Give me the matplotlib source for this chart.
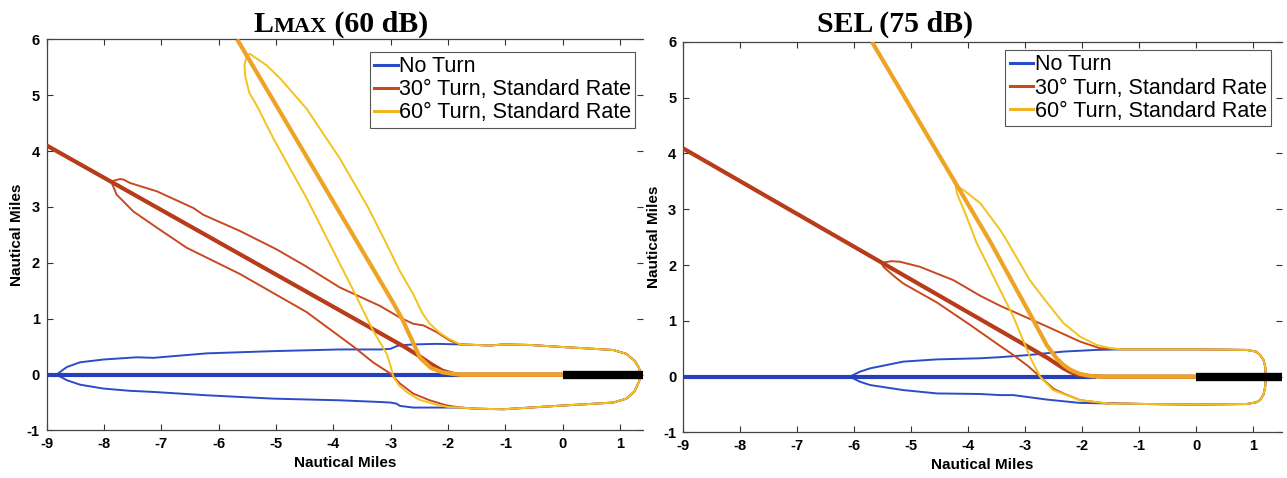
import matplotlib
matplotlib.use("Agg")
import matplotlib.pyplot as plt
from matplotlib.lines import Line2D
from matplotlib.offsetbox import TextArea, HPacker, AnchoredOffsetbox

# ── SERIES STYLE ──────────────────────────────────────────────
labels = ["No Turn", "30\u00b0 Turn, Standard Rate", "60\u00b0 Turn, Standard Rate"]
contour_colors = ["#2D4BC6", "#C9491F", "#F4C21C"]
track_colors = ["#2540B8", "#B93C1A", "#EEA324"]
legend_colors = ["#2D4BC6", "#C9491F", "#F2B424"]

# ── LMAX (60 dB) ──────────────────────────────────────────────
# shared nose of the contour around the runway (upper end -> lower end)
lmax_nose_x = [-1.79, -1.5, -1.27, -1.04, -0.57, -0.11, 0.4, 0.88, 1.11, 1.25, 1.33, 1.35,
               1.33, 1.25, 1.11, 0.88, 0.4, -0.11, -0.57, -1.04, -1.5, -1.79]
lmax_nose_y = [0.54, 0.53, 0.52, 0.54, 0.53, 0.50, 0.47, 0.44, 0.37, 0.25, 0.12, 0.0,
               -0.12, -0.30, -0.43, -0.50, -0.53, -0.56, -0.59, -0.62, -0.61, -0.59]

# no turn
lmax_none_track_x = [-9.0, -1.79]
lmax_none_track_y = [0.0, 0.0]
lmax_none_upper_x = [-8.83, -8.65, -8.42, -8.01, -7.43, -7.14, -6.21, -5.05, -3.89, -3.19,
                     -3.01, -2.87, -2.61, -2.2, -1.79]
lmax_none_upper_y = [0.0, 0.135, 0.22, 0.27, 0.31, 0.30, 0.38, 0.42, 0.45, 0.45,
                     0.46, 0.52, 0.54, 0.55, 0.54]
lmax_none_lower_x = [-8.83, -8.65, -8.42, -8.01, -7.55, -7.14, -6.21, -5.05, -3.89, -3.19,
                     -3.01, -2.90, -2.84, -2.61, -2.2, -1.79]
lmax_none_lower_y = [0.0, -0.10, -0.18, -0.25, -0.29, -0.31, -0.37, -0.43, -0.46, -0.49,
                     -0.50, -0.52, -0.56, -0.59, -0.59, -0.59]

# 30 degree turn
lmax_30_track_x = [-9.0, -2.75, -2.5, -2.3, -2.1, -1.9, -1.79, 0.0]
lmax_30_track_y = [4.1, 0.49, 0.33, 0.19, 0.07, 0.01, 0.0, 0.0]
lmax_30_upper_x = [-7.87, -7.72, -7.66, -7.55, -7.08, -6.44, -6.27, -5.63, -4.99, -4.5,
                   -3.89, -3.19, -2.84, -2.61, -2.43, -2.2, -1.97, -1.79]
lmax_30_upper_y = [3.46, 3.50, 3.49, 3.43, 3.28, 2.98, 2.86, 2.57, 2.24, 1.95,
                   1.56, 1.23, 1.02, 0.91, 0.88, 0.76, 0.61, 0.54]
lmax_30_lower_x = [-7.87, -7.78, -7.49, -7.08, -6.56, -5.63, -4.47, -3.65, -3.31, -3.01,
                   -2.84, -2.61, -2.32, -2.03, -1.79]
lmax_30_lower_y = [3.44, 3.22, 2.92, 2.63, 2.27, 1.80, 1.12, 0.50, 0.22, 0.02,
                   -0.16, -0.34, -0.46, -0.55, -0.59]

# 60 degree turn
lmax_60_track_x = [-5.68, -2.95, -2.8, -2.65, -2.49, -2.3, -2.1, -1.9, -1.79, 0.0]
lmax_60_track_y = [6.0, 1.27, 0.99, 0.66, 0.30, 0.12, 0.04, 0.01, 0.0, 0.0]
lmax_60_upper_x = [-5.51, -5.46, -5.16, -4.93, -4.47, -3.89, -3.4, -3.1, -2.84, -2.61,
                   -2.45, -2.32, -2.15, -2.0, -1.79]
lmax_60_upper_y = [5.71, 5.74, 5.53, 5.30, 4.76, 3.87, 3.0, 2.39, 1.85, 1.44,
                   1.10, 0.91, 0.75, 0.65, 0.54]
lmax_60_lower_x = [-5.51, -5.55, -5.54, -5.47, -5.34, -5.05, -4.47, -4.0, -3.65, -3.31,
                   -3.07, -3.0, -2.95, -2.85, -2.7, -2.5, -2.2, -2.0, -1.79]
lmax_60_lower_y = [5.71, 5.55, 5.35, 5.05, 4.82, 4.23, 3.16, 2.21, 1.50, 0.79,
                   0.37, 0.14, -0.05, -0.20, -0.33, -0.45, -0.54, -0.58, -0.59]

# ── SEL (75 dB) ───────────────────────────────────────────────
sel_nose_x = [-1.3, -0.87, 0.0, 0.88, 1.05, 1.12, 1.18, 1.21, 1.22, 1.21, 1.18, 1.12,
              1.05, 0.88, 0.0, -0.87, -1.3]
sel_nose_y = [0.49, 0.49, 0.49, 0.48, 0.45, 0.39, 0.30, 0.18, 0.0, -0.18, -0.32, -0.42,
              -0.46, -0.49, -0.50, -0.49, -0.48]

# no turn
sel_none_track_x = [-9.0, -1.75]
sel_none_track_y = [0.0, 0.0]
sel_none_upper_x = [-6.08, -5.9, -5.72, -5.14, -4.55, -3.79, -3.44, -2.92, -2.33, -1.75, -1.3]
sel_none_upper_y = [0.0, 0.09, 0.15, 0.27, 0.31, 0.33, 0.35, 0.39, 0.45, 0.48, 0.49]
sel_none_lower_x = [-6.08, -5.9, -5.72, -5.14, -4.55, -3.79, -3.44, -3.21, -2.62, -2.04,
                    -1.46, -1.3]
sel_none_lower_y = [0.0, -0.09, -0.15, -0.24, -0.30, -0.31, -0.33, -0.33, -0.41, -0.47,
                    -0.48, -0.48]

# 30 degree turn
sel_30_track_x = [-9.0, -2.6, -2.45, -2.33, -2.2, -2.04, -1.85, -1.6, 0.0]
sel_30_track_y = [4.09, 0.33, 0.23, 0.15, 0.08, 0.03, 0.01, 0.0, 0.0]
sel_30_upper_x = [-5.52, -5.35, -5.20, -4.85, -4.26, -3.79, -3.44, -2.62, -2.04, -1.69, -1.3]
sel_30_upper_y = [2.04, 2.07, 2.06, 1.97, 1.73, 1.45, 1.27, 0.90, 0.63, 0.51, 0.49]
sel_30_lower_x = [-5.52, -5.49, -5.3, -5.14, -4.55, -3.97, -3.44, -3.21, -2.95, -2.74,
                  -2.5, -2.33, -2.04, -1.57, -1.3]
sel_30_lower_y = [2.04, 1.97, 1.80, 1.67, 1.33, 0.93, 0.55, 0.39, 0.19, 0.0,
                  -0.22, -0.30, -0.42, -0.48, -0.48]

# 60 degree turn
sel_60_track_x = [-5.69, -3.62, -2.92, -2.62, -2.45, -2.33, -2.2, -2.04, -1.85, -1.6, 0.0]
sel_60_track_y = [6.0, 2.43, 1.13, 0.56, 0.33, 0.21, 0.12, 0.05, 0.01, 0.0, 0.0]
sel_60_upper_x = [-4.23, -4.18, -4.09, -3.79, -3.44, -3.33, -2.92, -2.62, -2.33, -2.04,
                  -1.75, -1.5, -1.3]
sel_60_upper_y = [3.49, 3.40, 3.35, 3.11, 2.63, 2.45, 1.73, 1.33, 0.96, 0.72,
                  0.57, 0.51, 0.49]
sel_60_lower_x = [-4.23, -4.20, -4.03, -3.85, -3.79, -3.21, -2.92, -2.74, -2.51, -2.04,
                  -1.46, -1.3]
sel_60_lower_y = [3.49, 3.29, 2.87, 2.39, 2.27, 1.08, 0.36, 0.0, -0.24, -0.42,
                  -0.49, -0.48]

# runway
runway_x = [0.0, 1.5]
runway_y = [0.0, 0.0]

x_ticks = [-9, -8, -7, -6, -5, -4, -3, -2, -1, 0, 1]
y_ticks = [-1, 0, 1, 2, 3, 4, 5, 6]

lmax_series = [
    (lmax_none_track_x, lmax_none_track_y, lmax_none_upper_x, lmax_none_upper_y,
     lmax_none_lower_x, lmax_none_lower_y),
    (lmax_30_track_x, lmax_30_track_y, lmax_30_upper_x, lmax_30_upper_y,
     lmax_30_lower_x, lmax_30_lower_y),
    (lmax_60_track_x, lmax_60_track_y, lmax_60_upper_x, lmax_60_upper_y,
     lmax_60_lower_x, lmax_60_lower_y),
]
sel_series = [
    (sel_none_track_x, sel_none_track_y, sel_none_upper_x, sel_none_upper_y,
     sel_none_lower_x, sel_none_lower_y),
    (sel_30_track_x, sel_30_track_y, sel_30_upper_x, sel_30_upper_y,
     sel_30_lower_x, sel_30_lower_y),
    (sel_60_track_x, sel_60_track_y, sel_60_upper_x, sel_60_upper_y,
     sel_60_lower_x, sel_60_lower_y),
]

plt.rcParams["font.family"] = ["Liberation Sans", "DejaVu Sans"]
plt.rcParams["axes.unicode_minus"] = False

fig = plt.figure(figsize=(12.87, 4.78), dpi=100)
ax_l = fig.add_axes([0.0363, 0.0994, 0.4634, 0.8184])
ax_r = fig.add_axes([0.5309, 0.0952, 0.4650, 0.8172])


def draw_panel(ax, series, nose_x, nose_y, xmax, legend_anchor):
    for i, (tx, ty, ux, uy, lx, ly) in enumerate(series):
        # closed contour: upper branch, nose round the runway, lower branch back
        cx = list(ux) + list(nose_x) + list(lx)[::-1]
        cy = list(uy) + list(nose_y) + list(ly)[::-1]
        ax.plot(cx, cy, color=contour_colors[i], lw=1.4, solid_joinstyle="round", zorder=2 + i)
        ax.plot(tx, ty, color=track_colors[i], lw=3.0, solid_capstyle="butt", zorder=2 + i)
    ax.plot(runway_x, runway_y, color="black", lw=6, solid_capstyle="butt", zorder=10)

    ax.set_xlim(-9, xmax)
    ax.set_ylim(-1, 6)
    ax.set_xticks(x_ticks)
    ax.set_yticks(y_ticks)
    ax.tick_params(direction="in", length=4, width=0.8, top=True, right=True,
                   labelsize=10.5, colors="#333333", labelcolor="black", pad=5)
    for lab in ax.get_xticklabels() + ax.get_yticklabels():
        lab.set_fontweight("bold")
    for side in ["left", "bottom", "top"]:
        ax.spines[side].set_color("#444444")
        ax.spines[side].set_linewidth(0.9)
    ax.spines["right"].set_visible(False)
    ax.set_xlabel("Nautical Miles", fontsize=11, fontweight="bold", labelpad=3)
    ax.set_ylabel("Nautical Miles", fontsize=11, fontweight="bold", labelpad=2)

    handles = [Line2D([], [], color=c, lw=2.2) for c in legend_colors]
    leg = ax.legend(handles, labels, loc="upper right", bbox_to_anchor=legend_anchor,
                    borderaxespad=0, fontsize=15.5, handlelength=1.1, handletextpad=0.05,
                    borderpad=0.2, labelspacing=0.1, fancybox=False, framealpha=1)
    leg.get_frame().set_edgecolor("#555555")
    leg.get_frame().set_linewidth(0.8)


draw_panel(ax_l, lmax_series, lmax_nose_x, lmax_nose_y, 1.4, (0.987, 0.968))
draw_panel(ax_r, sel_series, sel_nose_x, sel_nose_y, 1.5, (0.982, 0.979))

# ── TITLES ────────────────────────────────────────────────────
title_font = dict(family="Liberation Serif", weight="bold", color="black")
lmax_title = HPacker(children=[
    TextArea("L", textprops=dict(size=21.5, **title_font)),
    TextArea("MAX", textprops=dict(size=16, **title_font)),
    TextArea(" (60 dB)", textprops=dict(size=21.5, **title_font)),
], align="baseline", pad=0, sep=0)
fig.add_artist(AnchoredOffsetbox(loc="lower center", child=lmax_title, frameon=False,
                                 bbox_to_anchor=(341 / 1287, 1 - 38 / 478),
                                 bbox_transform=fig.transFigure, pad=0, borderpad=0))
fig.text(895 / 1287, 1 - 38 / 478, "SEL (75 dB)", ha="center", va="bottom",
         size=21.5, **title_font)

fig.savefig("out.png", dpi=100)
